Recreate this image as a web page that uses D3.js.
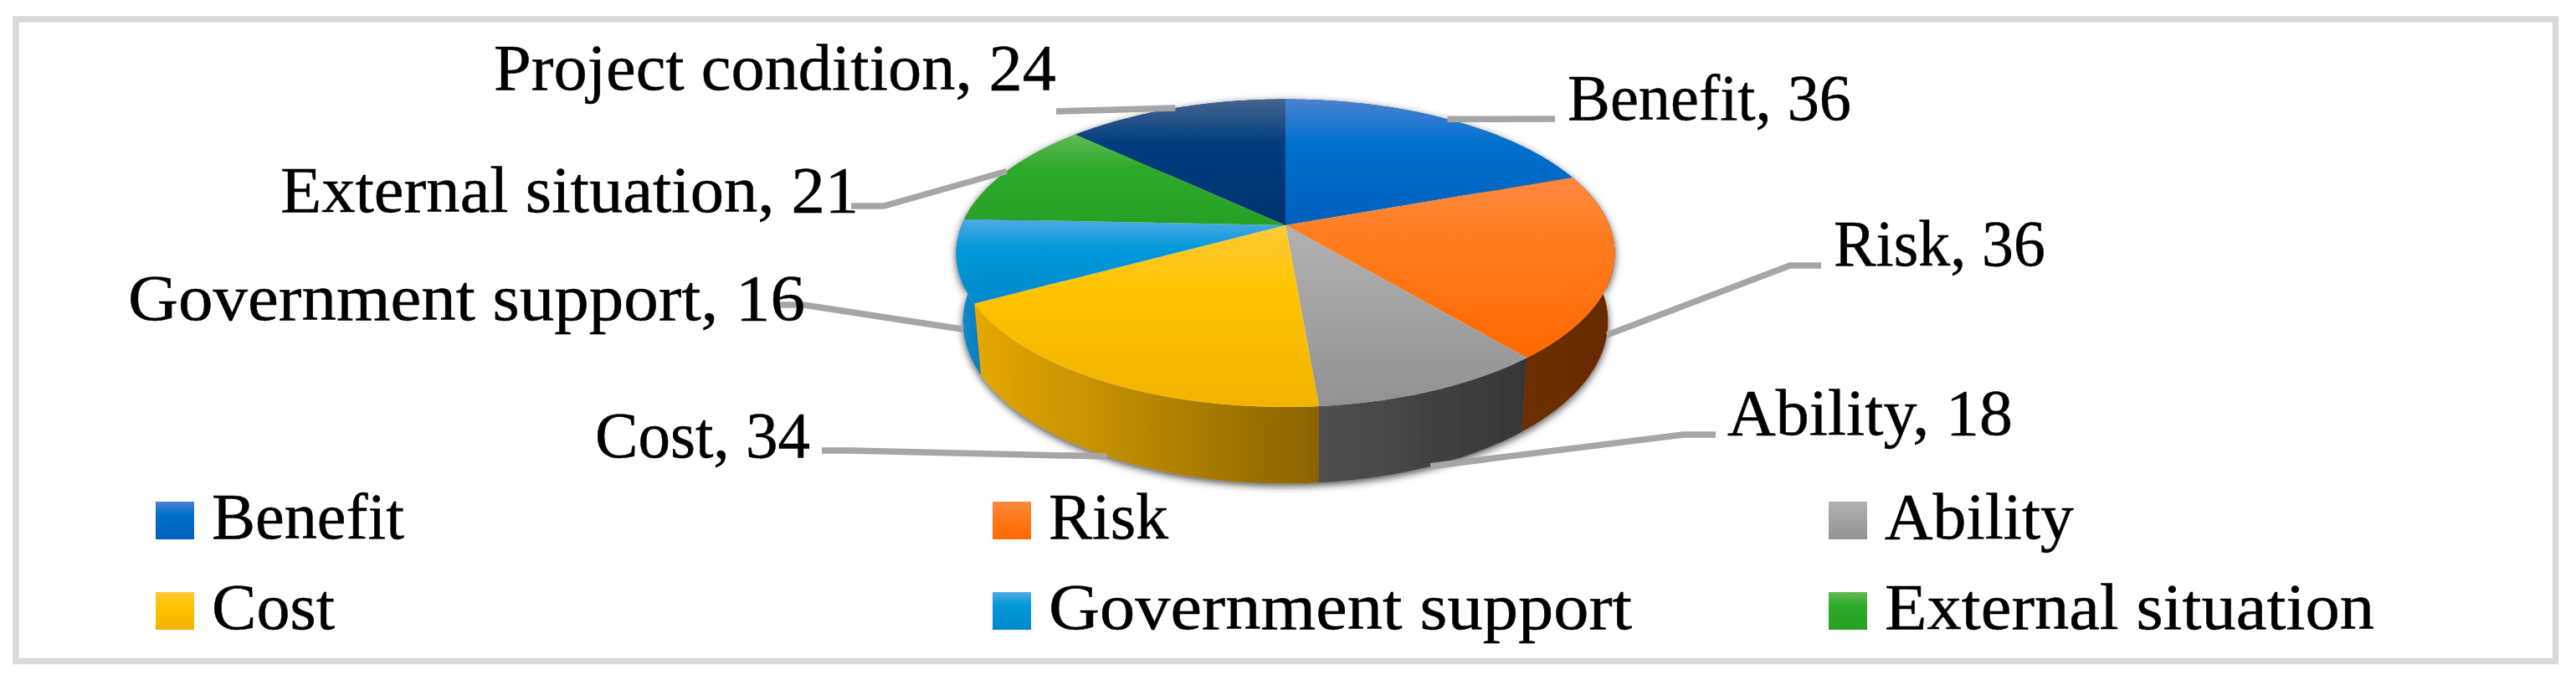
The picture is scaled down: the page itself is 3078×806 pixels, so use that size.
<!doctype html>
<html>
<head>
<style>
  html, body { margin: 0; padding: 0; background: #fff; }
  svg { display: block; }
  text { font-family: "Liberation Serif", serif; fill: #000; stroke: #000; stroke-width: 0.5; }
</style>
</head>
<body>
<div id="chart"></div>
<script src="https://cdnjs.cloudflare.com/ajax/libs/d3/7.8.5/d3.min.js"></script>
<script>
  var categories = ['Benefit', 'Risk', 'Ability', 'Cost', 'Government support', 'External situation', 'Project condition']
  var values = [36, 36, 18, 34, 16, 21, 24]
  var legendNames = categories.slice(0, 6)

  // top face gradient stops, light / mid / dark
  var topColors = [
    ['#4a82d2', '#0070cd', '#005fbc'],
    ['#ff8a40', '#ff7c1f', '#ff6800'],
    ['#b2b2b2', '#a6a6a6', '#929292'],
    ['#ffca38', '#ffc400', '#f2b200'],
    ['#52a9e2', '#0099da', '#0088cc'],
    ['#62ba55', '#2fab2c', '#28a024'],
    ['#46648f', '#003d80', '#00336e']
  ]
  // side wall, left colour then right colour
  var sideColors = [
    ['#00408a', '#00408a'],
    ['#6e2f00', '#662a00'],
    ['#505050', '#363636'],
    ['#e6a800', '#8a6400'],
    ['#0a8ad0', '#0a7ebc'],
    ['#1f7a1a', '#1f7a1a'],
    ['#002a5c', '#002a5c']
  ]

  var width = 3078
  var height = 806

  // the pie is a tilted disc, so rim points go through a perspective divide
  var centerX = 1536
  var topY = 269
  var lowY = 349
  var rimX = 387
  var rimY = 177.7
  var lowRimX = 379
  var lowRimY = 187
  var persp = 0.181

  var fontSize = 78

  // [text left, baseline, text width] of each data label
  var labelPos = [[1873, 143, 339], [2191, 317, 253], [2064, 519, 341], [711, 546, 257], [153, 382, 809], [335, 253, 691], [590, 107, 672]]
  var leaderEnds = [
    [[1858, 142]],
    [[2139, 317], [2176, 317]],
    [[2011, 519], [2050, 519]],
    [[1017, 538], [982, 538]],
    [[960, 364], [925, 364]],
    [[1056, 246], [1017, 246]],
    [[1262, 133]]
  ]

  var legendCols = [186, 1186, 2185]
  var legendRows = [599, 707]
  var legendWidths = [230, 143, 226, 147, 697, 585]

  var svg = d3.select('#chart')
    .append('svg')
    .attr('width', width)
    .attr('height', height)

  var defs = svg.append('defs')

  var shadow = defs.append('filter')
    .attr('id', 'wall-shadow')
    .attr('x', '-10%').attr('y', '-10%')
    .attr('width', '120%').attr('height', '120%')
  shadow.append('feDropShadow')
    .attr('dx', 0).attr('dy', 3)
    .attr('stdDeviation', 5)
    .attr('flood-color', '#000')
    .attr('flood-opacity', 0.7)

  topColors.forEach((c, i) => {
    var g = defs.append('linearGradient')
      .attr('id', 'top-' + i)
      .attr('x1', 0).attr('y1', 0).attr('x2', 0).attr('y2', 1)
    g.append('stop').attr('offset', '0%').attr('stop-color', c[0])
    g.append('stop').attr('offset', '35%').attr('stop-color', c[1])
    g.append('stop').attr('offset', '100%').attr('stop-color', c[2])
  })

  sideColors.forEach((c, i) => {
    var g = defs.append('linearGradient')
      .attr('id', 'side-' + i)
      .attr('x1', 0).attr('y1', 0).attr('x2', 1).attr('y2', 0)
    g.append('stop').attr('offset', '0%').attr('stop-color', c[0])
    g.append('stop').attr('offset', '100%').attr('stop-color', c[1])
  })

  // frame
  svg.append('rect')
    .attr('x', 19)
    .attr('y', 23)
    .attr('width', 3034.5)
    .attr('height', 766.5)
    .attr('fill', '#fff')
    .attr('stroke', '#d9d9d9')
    .attr('stroke-width', 7.5)

  var arcs = d3.pie().sort(null).value(d => d)(values)

  function topPoint(a, r) {
    var w = 1 + persp * Math.cos(a) * r
    return [centerX + rimX * Math.sin(a) * r / w, topY - rimY * Math.cos(a) * r / w]
  }

  function lowPoint(a) {
    var w = 1 + persp * Math.cos(a)
    return [centerX + lowRimX * Math.sin(a) / w, lowY - lowRimY * Math.cos(a) / w]
  }

  function rimAngles(d) {
    var n = Math.ceil((d.endAngle - d.startAngle) / 0.01)
    return d3.range(n + 1).map(i => d.startAngle + (d.endAngle - d.startAngle) * i / n)
  }

  var line = d3.line()

  var pie = svg.append('g')

  // side walls first, the top faces cover whatever is behind
  pie.append('g')
    .attr('filter', 'url(#wall-shadow)')
    .selectAll('path')
    .data(arcs)
    .enter().append('path')
    .attr('d', d => {
      var angles = rimAngles(d)
      return line(angles.map(a => topPoint(a, 1)).concat(angles.slice().reverse().map(lowPoint))) + 'Z'
    })
    .attr('fill', (d, i) => `url(#side-${i})`)

  pie.append('g')
    .selectAll('path')
    .data(arcs)
    .enter().append('path')
    .attr('d', d => line([topPoint(0, 0)].concat(rimAngles(d).map(a => topPoint(a, 1)))) + 'Z')
    .attr('fill', (d, i) => `url(#top-${i})`)

  // leader lines start on the rim at the middle of each slice
  svg.append('g')
    .selectAll('path')
    .data(arcs)
    .enter().append('path')
    .attr('d', (d, i) => {
      var mid = (d.startAngle + d.endAngle) / 2
      var start = Math.cos(mid) > 0 ? topPoint(mid, 1) : lowPoint(mid)
      return line([start].concat(leaderEnds[i]))
    })
    .attr('fill', 'none')
    .attr('stroke', '#a6a6a6')
    .attr('stroke-width', 7.5)

  svg.append('g')
    .selectAll('text')
    .data(categories)
    .enter().append('text')
    .attr('x', (d, i) => labelPos[i][0])
    .attr('y', (d, i) => labelPos[i][1])
    .attr('font-size', fontSize)
    .attr('textLength', (d, i) => labelPos[i][2])
    .attr('lengthAdjust', 'spacingAndGlyphs')
    .text((d, i) => `${d}, ${values[i]}`)

  // legend has no entry for the last category
  var legend = svg.append('g')
    .selectAll('g')
    .data(legendNames)
    .enter().append('g')
    .attr('transform', (d, i) => `translate(${legendCols[i % 3]},${legendRows[Math.floor(i / 3)]})`)

  legend.append('rect')
    .attr('width', 46)
    .attr('height', 45)
    .attr('fill', (d, i) => `url(#top-${i})`)

  legend.append('text')
    .attr('x', 67)
    .attr('y', 44)
    .attr('font-size', fontSize)
    .attr('textLength', (d, i) => legendWidths[i])
    .attr('lengthAdjust', 'spacingAndGlyphs')
    .text(d => d)
</script>
</body>
</html>
